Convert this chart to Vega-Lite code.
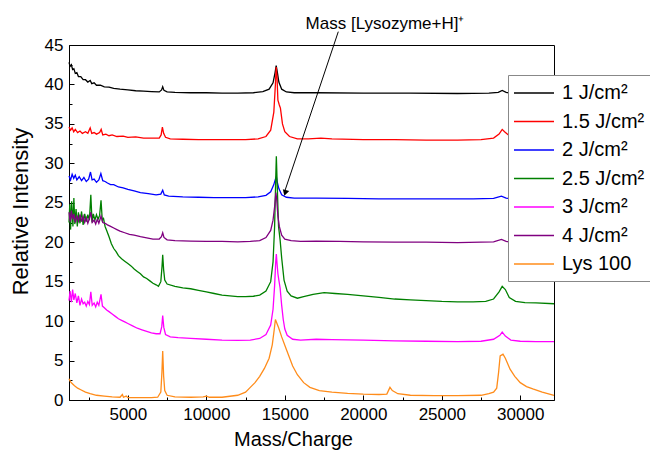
{
"$schema":"https://vega.github.io/schema/vega-lite/v6.json",
"width":485,"height":355,
"autosize":"none",
"padding":{"left":69,"top":45,"right":96,"bottom":50},
"background":"white",
"config":{"view":{"stroke":"black","strokeWidth":1},"font":"Liberation Sans",
"axis":{"domainColor":"black","tickColor":"black","labelColor":"black","titleColor":"black","grid":false,"labelFont":"Liberation Sans","titleFont":"Liberation Sans","titleFontWeight":"normal"}},
"datasets":{
"k":[{"x":1250,"y":42.8},{"x":1320,"y":42.3},{"x":1400,"y":42.5},{"x":1480,"y":41.9},{"x":1560,"y":42.0},{"x":1650,"y":41.4},{"x":1750,"y":41.5},{"x":1850,"y":41.0},{"x":2000,"y":41.0},{"x":2150,"y":40.6},{"x":2300,"y":40.6},{"x":2450,"y":40.3},{"x":2600,"y":40.5},{"x":2700,"y":40.1},{"x":2850,"y":40.2},{"x":3000,"y":39.9},{"x":3250,"y":39.9},{"x":3500,"y":39.7},{"x":3800,"y":39.65},{"x":4100,"y":39.5},{"x":4500,"y":39.4},{"x":5000,"y":39.3},{"x":5500,"y":39.2},{"x":6000,"y":39.15},{"x":6500,"y":39.1},{"x":7000,"y":39.05},{"x":7150,"y":39.3},{"x":7220,"y":39.7},{"x":7300,"y":39.25},{"x":7500,"y":39.05},{"x":8000,"y":39.0},{"x":9000,"y":38.95},{"x":10000,"y":38.95},{"x":11000,"y":38.9},{"x":12000,"y":38.9},{"x":13000,"y":38.95},{"x":13600,"y":39.1},{"x":14000,"y":39.4},{"x":14250,"y":40.2},{"x":14380,"y":41.5},{"x":14450,"y":42.4},{"x":14520,"y":41.6},{"x":14620,"y":40.3},{"x":14800,"y":39.4},{"x":15100,"y":39.05},{"x":15600,"y":38.95},{"x":17000,"y":38.95},{"x":20000,"y":38.9},{"x":23000,"y":38.9},{"x":26000,"y":38.85},{"x":28000,"y":38.9},{"x":28600,"y":39.0},{"x":28850,"y":39.25},{"x":29100,"y":39.0},{"x":29500,"y":38.85},{"x":30500,"y":38.8},{"x":32150,"y":38.8}],
"r":[{"x":1250,"y":34.6},{"x":1350,"y":34.2},{"x":1450,"y":34.5},{"x":1550,"y":34.0},{"x":1650,"y":34.3},{"x":1800,"y":33.9},{"x":1950,"y":34.1},{"x":2100,"y":33.8},{"x":2300,"y":34.0},{"x":2450,"y":33.8},{"x":2600,"y":34.5},{"x":2700,"y":33.8},{"x":2850,"y":33.9},{"x":3000,"y":33.7},{"x":3200,"y":33.9},{"x":3300,"y":34.3},{"x":3400,"y":33.6},{"x":3600,"y":33.7},{"x":3800,"y":33.5},{"x":4000,"y":33.6},{"x":4300,"y":33.4},{"x":4700,"y":33.45},{"x":5000,"y":33.3},{"x":5500,"y":33.35},{"x":6000,"y":33.2},{"x":6500,"y":33.2},{"x":7000,"y":33.2},{"x":7120,"y":33.6},{"x":7200,"y":34.6},{"x":7280,"y":33.8},{"x":7400,"y":33.3},{"x":7700,"y":33.1},{"x":8500,"y":33.05},{"x":9500,"y":33.0},{"x":10500,"y":33.0},{"x":11500,"y":33.0},{"x":12500,"y":33.0},{"x":13300,"y":33.1},{"x":13800,"y":33.4},{"x":14100,"y":34.2},{"x":14300,"y":36.5},{"x":14400,"y":40.0},{"x":14450,"y":42.2},{"x":14500,"y":41.0},{"x":14560,"y":38.0},{"x":14650,"y":37.4},{"x":14720,"y":37.0},{"x":14850,"y":35.0},{"x":15000,"y":34.0},{"x":15300,"y":33.4},{"x":15800,"y":33.1},{"x":16500,"y":33.1},{"x":17300,"y":33.2},{"x":18000,"y":33.1},{"x":20000,"y":33.0},{"x":22000,"y":33.0},{"x":24000,"y":32.95},{"x":26000,"y":32.95},{"x":27500,"y":33.0},{"x":28300,"y":33.2},{"x":28650,"y":33.7},{"x":28850,"y":34.3},{"x":29000,"y":34.0},{"x":29300,"y":33.5},{"x":29700,"y":33.25},{"x":30500,"y":33.1},{"x":31500,"y":33.05},{"x":32150,"y":33.0}],
"b":[{"x":1250,"y":28.4},{"x":1350,"y":27.9},{"x":1450,"y":28.6},{"x":1550,"y":28.1},{"x":1650,"y":28.5},{"x":1750,"y":27.9},{"x":1900,"y":28.3},{"x":2050,"y":27.8},{"x":2200,"y":28.2},{"x":2350,"y":27.7},{"x":2500,"y":28.0},{"x":2620,"y":28.9},{"x":2720,"y":27.9},{"x":2850,"y":28.0},{"x":3000,"y":27.6},{"x":3150,"y":27.9},{"x":3280,"y":28.7},{"x":3400,"y":27.8},{"x":3550,"y":27.7},{"x":3700,"y":27.5},{"x":3900,"y":27.3},{"x":4100,"y":27.3},{"x":4400,"y":27.0},{"x":4700,"y":26.9},{"x":5000,"y":26.7},{"x":5400,"y":26.5},{"x":5800,"y":26.3},{"x":6300,"y":26.15},{"x":6800,"y":26.0},{"x":7100,"y":26.1},{"x":7220,"y":26.6},{"x":7320,"y":26.0},{"x":7600,"y":25.85},{"x":8500,"y":25.75},{"x":9500,"y":25.7},{"x":10500,"y":25.65},{"x":11500,"y":25.65},{"x":12500,"y":25.65},{"x":13300,"y":25.75},{"x":13800,"y":25.95},{"x":14100,"y":26.4},{"x":14300,"y":27.3},{"x":14400,"y":28.0},{"x":14460,"y":28.3},{"x":14520,"y":27.6},{"x":14620,"y":26.8},{"x":14800,"y":26.0},{"x":15100,"y":25.7},{"x":15600,"y":25.6},{"x":17000,"y":25.6},{"x":19000,"y":25.55},{"x":21000,"y":25.5},{"x":23000,"y":25.5},{"x":25000,"y":25.5},{"x":27000,"y":25.5},{"x":28300,"y":25.55},{"x":28800,"y":25.85},{"x":29100,"y":25.6},{"x":29600,"y":25.45},{"x":30500,"y":25.4},{"x":32150,"y":25.4}],
"g":[{"x":1250,"y":22.5},{"x":1300,"y":24.8},{"x":1350,"y":21.6},{"x":1420,"y":25.2},{"x":1500,"y":22.0},{"x":1560,"y":25.6},{"x":1620,"y":22.3},{"x":1700,"y":24.2},{"x":1780,"y":22.0},{"x":1850,"y":23.8},{"x":1950,"y":22.4},{"x":2050,"y":23.9},{"x":2150,"y":22.2},{"x":2250,"y":23.6},{"x":2350,"y":22.6},{"x":2450,"y":23.5},{"x":2550,"y":22.8},{"x":2640,"y":26.0},{"x":2720,"y":22.5},{"x":2800,"y":23.6},{"x":2900,"y":22.8},{"x":3000,"y":23.5},{"x":3100,"y":22.9},{"x":3200,"y":23.4},{"x":3290,"y":25.3},{"x":3370,"y":22.8},{"x":3450,"y":23.0},{"x":3550,"y":22.0},{"x":3650,"y":21.5},{"x":3800,"y":20.7},{"x":3950,"y":19.8},{"x":4100,"y":19.2},{"x":4250,"y":18.8},{"x":4400,"y":18.3},{"x":4600,"y":17.9},{"x":4800,"y":17.6},{"x":5000,"y":17.3},{"x":5200,"y":17.0},{"x":5400,"y":16.6},{"x":5600,"y":16.3},{"x":5800,"y":16.0},{"x":6000,"y":15.6},{"x":6200,"y":15.4},{"x":6400,"y":15.1},{"x":6600,"y":14.8},{"x":6800,"y":14.6},{"x":6950,"y":14.4},{"x":7100,"y":15.0},{"x":7180,"y":17.0},{"x":7220,"y":18.4},{"x":7280,"y":16.5},{"x":7350,"y":15.2},{"x":7500,"y":14.7},{"x":8000,"y":14.4},{"x":8500,"y":14.2},{"x":9000,"y":14.1},{"x":9500,"y":13.9},{"x":10000,"y":13.7},{"x":10500,"y":13.5},{"x":11000,"y":13.3},{"x":11500,"y":13.2},{"x":12000,"y":13.1},{"x":12500,"y":13.1},{"x":13000,"y":13.15},{"x":13400,"y":13.3},{"x":13800,"y":13.8},{"x":14100,"y":15.0},{"x":14250,"y":17.5},{"x":14350,"y":22.0},{"x":14420,"y":28.0},{"x":14460,"y":30.9},{"x":14520,"y":27.0},{"x":14600,"y":22.0},{"x":14700,"y":20.3},{"x":14800,"y":18.0},{"x":14950,"y":15.2},{"x":15150,"y":13.8},{"x":15400,"y":13.2},{"x":15800,"y":12.9},{"x":16200,"y":13.1},{"x":16800,"y":13.4},{"x":17500,"y":13.6},{"x":18200,"y":13.5},{"x":19000,"y":13.4},{"x":20000,"y":13.2},{"x":21000,"y":13.0},{"x":22000,"y":12.8},{"x":23000,"y":12.7},{"x":24000,"y":12.6},{"x":25000,"y":12.5},{"x":26000,"y":12.45},{"x":27000,"y":12.45},{"x":27800,"y":12.5},{"x":28300,"y":12.8},{"x":28650,"y":13.7},{"x":28850,"y":14.4},{"x":29050,"y":14.0},{"x":29300,"y":13.0},{"x":29700,"y":12.5},{"x":30300,"y":12.35},{"x":31000,"y":12.3},{"x":32150,"y":12.2}],
"m":[{"x":1250,"y":12.6},{"x":1320,"y":13.8},{"x":1400,"y":12.4},{"x":1480,"y":14.0},{"x":1560,"y":12.7},{"x":1650,"y":13.5},{"x":1750,"y":12.3},{"x":1850,"y":13.2},{"x":1950,"y":12.0},{"x":2050,"y":12.8},{"x":2150,"y":12.2},{"x":2250,"y":12.4},{"x":2350,"y":11.9},{"x":2450,"y":12.5},{"x":2550,"y":12.1},{"x":2640,"y":13.7},{"x":2730,"y":12.0},{"x":2850,"y":12.3},{"x":2950,"y":11.8},{"x":3050,"y":12.4},{"x":3150,"y":12.0},{"x":3290,"y":13.4},{"x":3380,"y":11.9},{"x":3500,"y":11.7},{"x":3650,"y":11.4},{"x":3800,"y":11.2},{"x":4000,"y":10.9},{"x":4200,"y":10.6},{"x":4400,"y":10.3},{"x":4600,"y":10.1},{"x":4800,"y":9.9},{"x":5000,"y":9.7},{"x":5300,"y":9.4},{"x":5600,"y":9.1},{"x":5900,"y":8.9},{"x":6200,"y":8.7},{"x":6500,"y":8.5},{"x":6800,"y":8.4},{"x":7050,"y":8.4},{"x":7160,"y":9.3},{"x":7220,"y":10.7},{"x":7290,"y":9.2},{"x":7400,"y":8.3},{"x":7700,"y":8.0},{"x":8200,"y":7.9},{"x":9000,"y":7.8},{"x":10000,"y":7.7},{"x":11000,"y":7.6},{"x":12000,"y":7.55},{"x":12800,"y":7.6},{"x":13400,"y":7.8},{"x":13800,"y":8.3},{"x":14100,"y":9.5},{"x":14250,"y":11.5},{"x":14350,"y":14.5},{"x":14420,"y":17.5},{"x":14460,"y":18.5},{"x":14500,"y":17.4},{"x":14560,"y":16.0},{"x":14620,"y":15.2},{"x":14700,"y":14.2},{"x":14800,"y":12.0},{"x":14900,"y":10.2},{"x":15000,"y":9.0},{"x":15150,"y":8.2},{"x":15500,"y":7.7},{"x":16000,"y":7.6},{"x":17000,"y":7.7},{"x":18000,"y":7.65},{"x":20000,"y":7.6},{"x":22000,"y":7.5},{"x":24000,"y":7.45},{"x":26000,"y":7.4},{"x":27500,"y":7.45},{"x":28300,"y":7.7},{"x":28700,"y":8.2},{"x":28850,"y":8.6},{"x":29050,"y":8.1},{"x":29400,"y":7.6},{"x":30000,"y":7.45},{"x":31000,"y":7.4},{"x":32150,"y":7.4}],
"p":[{"x":1250,"y":23.8},{"x":1320,"y":22.6},{"x":1400,"y":24.0},{"x":1480,"y":22.9},{"x":1560,"y":23.6},{"x":1650,"y":22.5},{"x":1750,"y":23.4},{"x":1850,"y":22.7},{"x":1950,"y":23.5},{"x":2050,"y":22.6},{"x":2150,"y":23.3},{"x":2250,"y":22.5},{"x":2350,"y":23.1},{"x":2450,"y":22.4},{"x":2550,"y":23.0},{"x":2640,"y":23.8},{"x":2730,"y":22.5},{"x":2850,"y":22.8},{"x":2950,"y":22.3},{"x":3050,"y":22.9},{"x":3150,"y":22.4},{"x":3290,"y":23.3},{"x":3400,"y":22.5},{"x":3550,"y":22.4},{"x":3700,"y":22.2},{"x":3900,"y":22.0},{"x":4100,"y":21.8},{"x":4300,"y":21.6},{"x":4500,"y":21.4},{"x":4800,"y":21.2},{"x":5100,"y":21.0},{"x":5400,"y":20.9},{"x":5800,"y":20.7},{"x":6200,"y":20.55},{"x":6600,"y":20.4},{"x":7000,"y":20.4},{"x":7140,"y":20.7},{"x":7220,"y":21.2},{"x":7300,"y":20.6},{"x":7500,"y":20.3},{"x":8000,"y":20.2},{"x":9000,"y":20.15},{"x":10000,"y":20.1},{"x":11000,"y":20.1},{"x":12000,"y":20.05},{"x":12800,"y":20.1},{"x":13400,"y":20.2},{"x":13800,"y":20.6},{"x":14100,"y":21.5},{"x":14250,"y":22.8},{"x":14350,"y":24.5},{"x":14430,"y":26.3},{"x":14480,"y":25.5},{"x":14560,"y":23.3},{"x":14650,"y":22.0},{"x":14800,"y":20.9},{"x":15000,"y":20.4},{"x":15400,"y":20.2},{"x":16000,"y":20.1},{"x":17000,"y":20.15},{"x":18500,"y":20.1},{"x":20000,"y":20.05},{"x":22000,"y":20.0},{"x":24000,"y":20.0},{"x":26000,"y":19.95},{"x":27500,"y":20.0},{"x":28300,"y":20.05},{"x":28800,"y":20.35},{"x":29100,"y":20.1},{"x":29600,"y":19.95},{"x":30500,"y":19.9},{"x":32150,"y":19.9}],
"o":[{"x":1250,"y":2.7},{"x":1350,"y":2.3},{"x":1450,"y":2.1},{"x":1600,"y":1.8},{"x":1800,"y":1.5},{"x":2000,"y":1.3},{"x":2300,"y":1.0},{"x":2600,"y":0.8},{"x":3000,"y":0.6},{"x":3500,"y":0.5},{"x":4000,"y":0.4},{"x":4500,"y":0.35},{"x":4650,"y":0.7},{"x":4720,"y":0.35},{"x":4900,"y":0.5},{"x":5000,"y":0.3},{"x":5500,"y":0.3},{"x":6000,"y":0.3},{"x":6500,"y":0.3},{"x":6900,"y":0.35},{"x":7100,"y":1.0},{"x":7170,"y":3.5},{"x":7220,"y":6.2},{"x":7280,"y":3.0},{"x":7350,"y":1.2},{"x":7500,"y":0.6},{"x":8000,"y":0.4},{"x":9000,"y":0.35},{"x":9800,"y":0.4},{"x":10000,"y":0.5},{"x":10200,"y":0.35},{"x":11000,"y":0.35},{"x":12000,"y":0.6},{"x":12500,"y":1.0},{"x":12800,"y":1.6},{"x":13100,"y":2.2},{"x":13400,"y":3.0},{"x":13700,"y":4.0},{"x":14000,"y":5.3},{"x":14200,"y":7.0},{"x":14330,"y":9.0},{"x":14400,"y":10.2},{"x":14480,"y":9.8},{"x":14600,"y":9.2},{"x":14800,"y":8.0},{"x":15100,"y":6.4},{"x":15500,"y":4.3},{"x":15800,"y":3.2},{"x":16200,"y":2.2},{"x":16600,"y":1.6},{"x":17200,"y":1.2},{"x":18000,"y":1.0},{"x":19000,"y":0.85},{"x":20000,"y":0.75},{"x":21000,"y":0.7},{"x":21500,"y":0.75},{"x":21700,"y":1.6},{"x":21850,"y":1.2},{"x":22200,"y":0.8},{"x":23000,"y":0.6},{"x":24500,"y":0.55},{"x":26000,"y":0.55},{"x":27500,"y":0.6},{"x":28000,"y":0.8},{"x":28300,"y":1.0},{"x":28500,"y":1.5},{"x":28620,"y":3.5},{"x":28720,"y":5.6},{"x":28900,"y":5.8},{"x":29050,"y":5.3},{"x":29350,"y":3.9},{"x":29650,"y":3.0},{"x":30000,"y":2.2},{"x":30400,"y":1.7},{"x":30800,"y":1.4},{"x":31400,"y":1.0},{"x":32150,"y":0.6}]
},
"encoding":{
"x":{"field":"x","type":"quantitative","title":"Mass/Charge",
"scale":{"domain":[1250,32150],"nice":false,"zero":false},
"axis":{"values":[2500,5000,7500,10000,12500,15000,17500,20000,22500,25000,27500,30000],"format":"d","labelExpr":"datum.value % 5000 === 0 ? datum.label : ''","tickSize":{"condition":{"test":"datum.value % 5000 === 0","value":-5},"value":-3},"labelFontSize":17,"labelPadding":11,"titleFontSize":20,"titleX":224,"titleY":45,"titleBaseline":"alphabetic","labelFlush":false,"labelOverlap":false}},
"y":{"field":"y","type":"quantitative","title":"Relative Intensity",
"scale":{"domain":[0,45],"nice":false,"zero":false},
"axis":{"values":[0,2.5,5,7.5,10,12.5,15,17.5,20,22.5,25,27.5,30,32.5,35,37.5,40,42.5,45],"labelExpr":"datum.value % 5 === 0 ? datum.label : ''","tickSize":{"condition":{"test":"datum.value % 5 === 0","value":-5},"value":-3},"labelFontSize":17,"labelPadding":11,"titleFontSize":22,"titleX":-49,"titleY":166,"titleAngle":-90,"titleAlign":"center","titleBaseline":"middle","labelFlush":false,"labelOverlap":false}}
},
"layer":[
{"data":{"name":"k"},"mark":{"type":"line","strokeWidth":1.3},"encoding":{"color":{"datum":"1 J/cm²"}}},
{"data":{"name":"r"},"mark":{"type":"line","strokeWidth":1.3},"encoding":{"color":{"datum":"1.5 J/cm²"}}},
{"data":{"name":"b"},"mark":{"type":"line","strokeWidth":1.3},"encoding":{"color":{"datum":"2 J/cm²"}}},
{"data":{"name":"g"},"mark":{"type":"line","strokeWidth":1.3},"encoding":{"color":{"datum":"2.5 J/cm²"}}},
{"data":{"name":"m"},"mark":{"type":"line","strokeWidth":1.3},"encoding":{"color":{"datum":"3 J/cm²"}}},
{"data":{"name":"p"},"mark":{"type":"line","strokeWidth":1.3},"encoding":{"color":{"datum":"4 J/cm²"}}},
{"data":{"name":"o"},"mark":{"type":"line","strokeWidth":1.3},"encoding":{"color":{"datum":"Lys 100",
 "scale":{"domain":["1 J/cm²","1.5 J/cm²","2 J/cm²","2.5 J/cm²","3 J/cm²","4 J/cm²","Lys 100"],"range":["#000000","#ff0000","#0000ff","#008000","#ff00ff","#800080","#ff8c1a"]},
 "legend":{"title":null,"orient":"none","legendX":439,"legendY":30,"symbolType":"M-2,0H2","symbolSize":400,"symbolStrokeWidth":1.5,"symbolOffset":8,"labelFontSize":20,"labelFont":"Liberation Sans","labelColor":"black","labelOffset":17,"rowPadding":7.5,"padding":7,"strokeColor":"#888888","fillColor":"white","labelLimit":300}}}},
{"data":{"values":[{"x":18407,"y":46.69,"x2":15020,"y2":26.6}]},"mark":{"type":"rule","color":"black","strokeWidth":1},"encoding":{"x2":{"field":"x2"},"y2":{"field":"y2"}}},
{"data":{"values":[{"x":15024,"y":26.25}]},"mark":{"type":"point","shape":"triangle-up","angle":197,"size":45,"filled":true,"color":"black","opacity":1},"encoding":{}},
{"data":{"values":[{"x":21383,"y":47.0,"t":"Mass [Lysozyme+H]⁺"}]},"mark":{"type":"text","font":"Liberation Sans","fontSize":17,"align":"center","baseline":"alphabetic","color":"black"},"encoding":{"text":{"field":"t"}}}
]
}
